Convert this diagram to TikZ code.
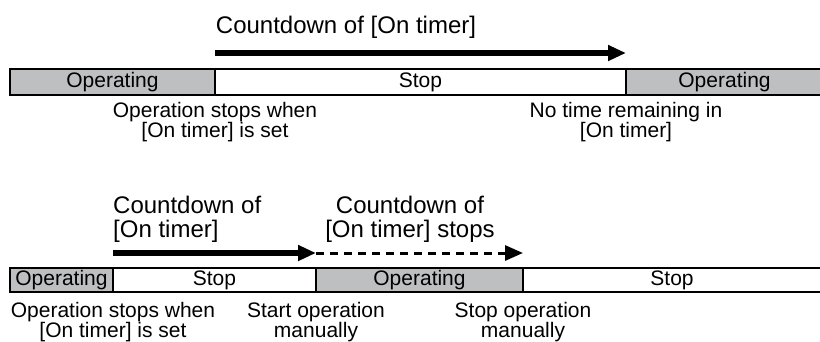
\documentclass[tikz,border=0pt]{standalone}
\usepackage{fontspec}
\setmainfont{Liberation Sans}
\definecolor{BarGray}{HTML}{BEBFC1}
\usetikzlibrary{arrows.meta,positioning}

\begin{document}
\begin{tikzpicture}[x=1pt,y=-1pt,
  node distance=0pt,
  seg/.style={draw=black,line width=2pt,minimum height=26pt,inner sep=0pt,outer sep=0pt,font=\fontsize{21}{21}\selectfont},
  opseg/.style={seg,fill=BarGray},
  stopseg/.style={seg,fill=white},
  note/.style={align=center,inner sep=0pt,font=\fontsize{21}{19}\selectfont},
  heading/.style={inner sep=0pt,font=\fontsize{24}{24}\selectfont},
  count/.style={-{Triangle[length=18pt,width=15pt]},line width=6pt},
  halted/.style={-{Triangle[length=18pt,width=15pt]},line width=3pt,dash pattern=on 8pt off 6pt}
]
\useasboundingbox (0,0) rectangle (820,341);
% upper time line
\node[opseg,minimum width=205pt,anchor=west] (topop1) at (10,82) {Operating};
\node[stopseg,minimum width=411pt,right=of topop1] (topstop) {Stop};
\node[opseg,minimum width=197pt,right=of topstop] (topop2) {Operating};
\draw[count] ([yshift=16pt]topstop.north west) -- ([yshift=16pt]topop2.north west);
\node[heading,anchor=base] (tophead) at (346,33) {Countdown of [On timer]};
\node[note] (topnoteL) at (topop1.east |- 0,122) {Operation stops when\\{}[On timer] is set};
\node[note] (topnoteR) at (topop2.west |- 0,122) {No time remaining in\\{}[On timer]};
% lower time line
\node[opseg,minimum width=103pt,minimum height=24pt,anchor=west] (botop1) at (10,280) {Operating};
\node[stopseg,minimum width=203pt,minimum height=24pt,right=of botop1] (botstop1) {Stop};
\node[opseg,minimum width=207pt,minimum height=24pt,right=of botstop1] (botop2) {Operating};
\node[stopseg,minimum width=298pt,minimum height=24pt,right=of botop2] (botstop2) {Stop};
\draw[count] ([yshift=15pt]botstop1.north west) -- ([yshift=15pt]botop2.north west);
\draw[halted] ([yshift=15pt]botop2.north west) -- ([yshift=15pt]botstop2.north west);
\node[heading,align=left,anchor=west] (bothead1) at (113,219) {Countdown of\\{}[On timer]};
\node[heading,align=center] (bothead2) at (410,219) {Countdown of\\{}[On timer] stops};
\node[note] (botnote1) at (botop1.east |- 0,322) {Operation stops when\\{}[On timer] is set};
\node[note] (botnote2) at (botop2.west |- 0,322) {Start operation\\manually};
\node[note] (botnote3) at (botstop2.west |- 0,322) {Stop operation\\manually};
\end{tikzpicture}
\end{document}
